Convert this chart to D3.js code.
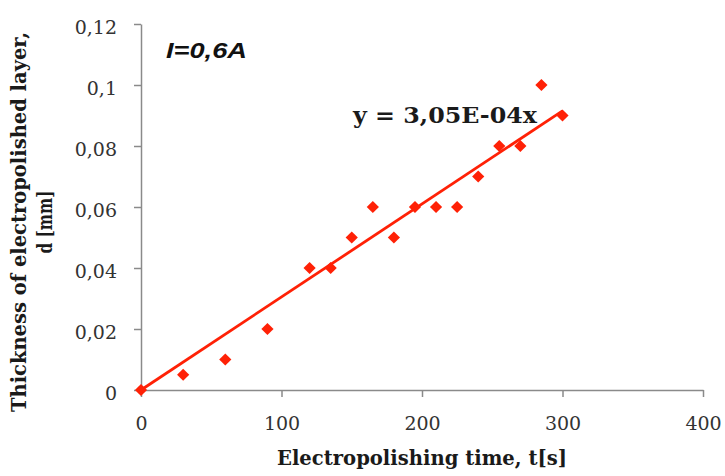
<!DOCTYPE html>
<html>
<head>
<meta charset="utf-8">
<script src="https://cdn.jsdelivr.net/npm/d3@7"></script>
<style>
  html, body { margin: 0; padding: 0; background: #fff; }
  svg { display: block; }
</style>
</head>
<body>
<svg id="chart" width="725" height="476"></svg>
<script>
// ---- data ----
const times = [0, 30, 60, 90, 120, 135, 150, 165, 180, 195, 210, 225, 240, 255, 270, 285, 300];
const thickness = [0, 0.005, 0.01, 0.02, 0.04, 0.04, 0.05, 0.06, 0.05, 0.06, 0.06, 0.06, 0.07, 0.08, 0.08, 0.10, 0.09];
const slope = 3.05e-4;
const trendRange = [0, 300];
const xTicks = [0, 100, 200, 300, 400];
const yTicks = [0, 0.02, 0.04, 0.06, 0.08, 0.10, 0.12];
const yTickLabels = ["0", "0,02", "0,04", "0,06", "0,08", "0,1", "0,12"];
const xTitle = "Electropolishing time, t[s]";
const yTitle1 = "Thickness of electropolished layer,";
const yTitle2 = "d [mm]";
const eqText = "y = 3,05E-04x";
const currentLabel = "I=0,6A";

// ---- drawing ----
const svg = d3.select("#chart");
const red = "#ff2106";
const axisColor = "#8a8a8a";
const serif = "'DejaVu Serif', serif";

const x = d3.scaleLinear().domain([0, 400]).range([141, 703]);
const y = d3.scaleLinear().domain([0, 0.12]).range([390, 24]);

// y axis
const yAxis = svg.append("g")
  .attr("transform", `translate(${x(0)},0)`)
  .call(d3.axisLeft(y).tickValues(yTicks).tickSize(7).tickSizeOuter(0)
    .tickFormat((d, i) => yTickLabels[i]));
yAxis.select(".domain").attr("stroke", axisColor).attr("stroke-width", 1.5);
yAxis.selectAll(".tick line").attr("stroke", axisColor).attr("stroke-width", 1.5);
yAxis.selectAll(".tick text")
  .attr("x", -24).attr("dy", "0.5em")
  .attr("fill", "#333").style("font-family", serif).style("font-size", "19px");

// x axis
const xAxis = svg.append("g")
  .attr("transform", `translate(0,${y(0)})`)
  .call(d3.axisBottom(x).tickValues(xTicks).tickSize(7).tickSizeOuter(0));
xAxis.select(".domain").attr("stroke", axisColor).attr("stroke-width", 1.5);
xAxis.selectAll(".tick line").attr("stroke", axisColor).attr("stroke-width", 1.5);
xAxis.selectAll(".tick text")
  .attr("y", 40).attr("dy", 0)
  .attr("fill", "#333").style("font-family", serif).style("font-size", "19px");

// trend line
svg.append("line")
  .attr("x1", x(trendRange[0])).attr("y1", y(slope * trendRange[0]))
  .attr("x2", x(trendRange[1])).attr("y2", y(slope * trendRange[1]))
  .attr("stroke", red).attr("stroke-width", 2.8);

// markers
const sym = d3.symbol().type(d3.symbolDiamond2).size(95);
svg.append("g").selectAll("path")
  .data(times.map((t, i) => [t, thickness[i]]))
  .join("path")
  .attr("d", sym)
  .attr("transform", d => `translate(${x(d[0])},${y(d[1])})`)
  .attr("fill", red);

// labels
svg.append("text")
  .attr("x", 166).attr("y", 58)
  .attr("textLength", 81).attr("lengthAdjust", "spacingAndGlyphs")
  .style("font-family", "'Liberation Sans', Arial, sans-serif")
  .style("font-weight", "bold").style("font-style", "italic").style("font-size", "22px")
  .attr("fill", "#111").text(currentLabel);

svg.append("text")
  .attr("x", 353).attr("y", 123)
  .attr("textLength", 184).attr("lengthAdjust", "spacingAndGlyphs")
  .style("font-family", serif).style("font-weight", "bold").style("font-size", "23px")
  .attr("fill", "#1a1a1a").text(eqText);

svg.append("text")
  .attr("x", 422).attr("y", 465).attr("text-anchor", "middle")
  .attr("textLength", 290).attr("lengthAdjust", "spacingAndGlyphs")
  .style("font-family", serif).style("font-weight", "bold").style("font-size", "20px")
  .attr("fill", "#1a1a1a").text(xTitle);

const yt = svg.append("g").attr("transform", "translate(0,222) rotate(-90)");
yt.append("text")
  .attr("x", 0).attr("y", 26).attr("text-anchor", "middle")
  .attr("textLength", 380).attr("lengthAdjust", "spacingAndGlyphs")
  .style("font-family", serif).style("font-weight", "bold").style("font-size", "20px")
  .attr("fill", "#1a1a1a").text(yTitle1);
yt.append("text")
  .attr("x", 0).attr("y", 52).attr("text-anchor", "middle")
  .attr("textLength", 63).attr("lengthAdjust", "spacingAndGlyphs")
  .style("font-family", serif).style("font-weight", "bold").style("font-size", "20px")
  .attr("fill", "#1a1a1a").text(yTitle2);
</script>
</body>
</html>
